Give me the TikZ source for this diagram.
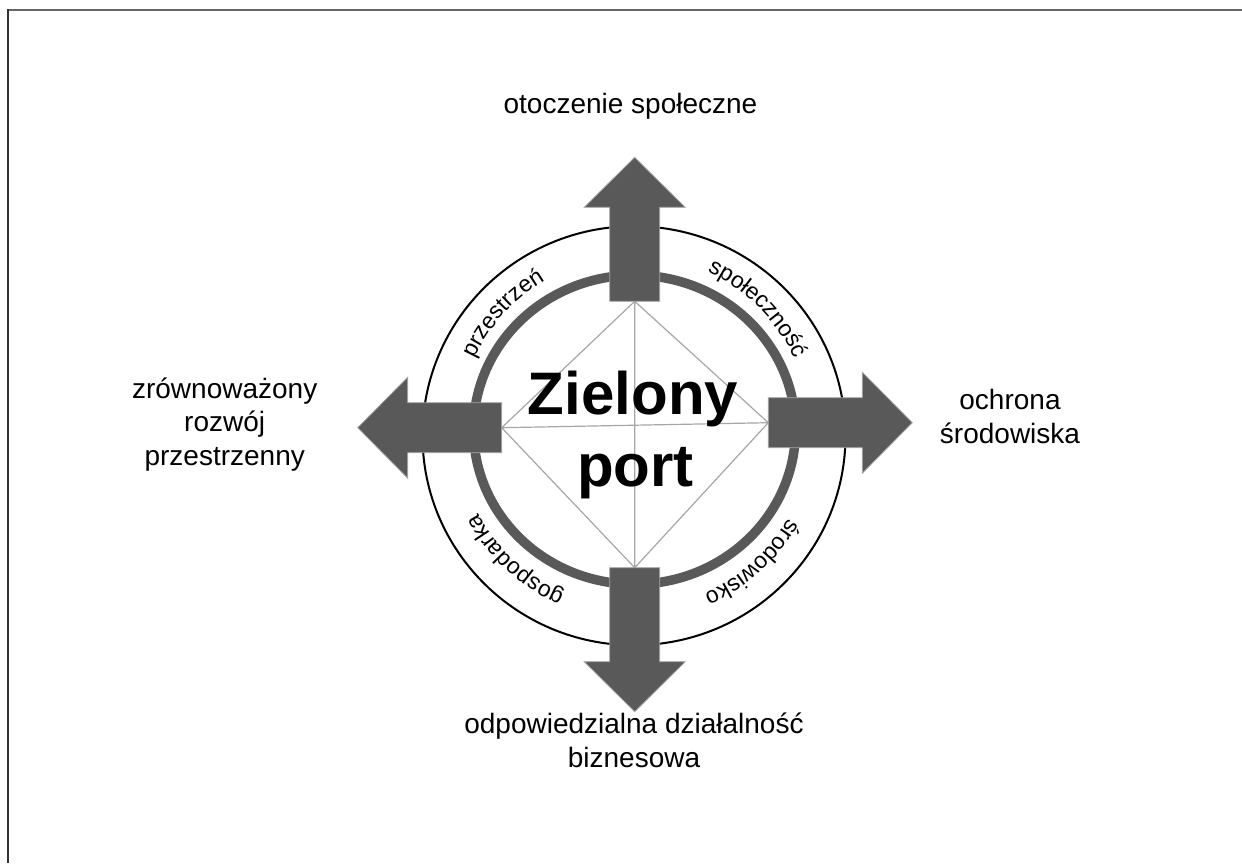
\documentclass[tikz,border=0pt]{standalone}
\usepackage{fontspec}
\setmainfont{Liberation Sans}
\usetikzlibrary{decorations.text}

\definecolor{arrowgray}{HTML}{595959}
\definecolor{linegray}{HTML}{A6A6A6}

\begin{document}
\begin{tikzpicture}[x=0.5pt, y=0.5pt]
    \tikzstyle{every node}=[inner sep=0pt,
				% The text:
				font=\fontsize{14}{16.7}\selectfont,
				align=center
					]
    \tikzstyle{bigarrow}=[fill=arrowgray, draw=linegray, line width=0.4pt]
    \tikzstyle{arctext}=[postaction={decorate},
				decoration={text along path, text align=center, text={|\fontsize{11.5}{13}\selectfont|#1}}]
    \useasboundingbox (0,0) rectangle (1242,-863);
    % frame
    \draw[gray!80!black, line width=1pt] (7,-9.5) -- (1242,-9.5);
    \draw[black!80, line width=1pt] (7.5,-9) -- (7.5,-863);
    % diamond corners
    \coordinate (top) at (634.7,-301.3);
    \coordinate (right) at (768.3,-422.7);
    \coordinate (bottom) at (634.7,-567.7);
    \coordinate (left) at (501.7,-427.7);
    % circles
    \draw[line width=1pt] (634,-435.7) ellipse [x radius=211.5, y radius=209.5];
    \draw[arrowgray, line width=4.75pt] (634.5,-429.7) ellipse [x radius=161, y radius=154.5];
    \draw[linegray, line width=0.6pt] (top) -- (right) -- (bottom) -- (left) -- cycle
        (top) -- (bottom) (left) -- (right);
    % arrows
    \foreach \v/\a in {top/90, right/0, bottom/270, left/180}
        \filldraw[bigarrow, shift={(\v)}, rotate=\a] (0,-25) -- (94,-25) -- (94,-50.5) -- (144,0)
            -- (94,50.5) -- (94,25) -- (0,25) -- cycle;
    % texts on the ring
    \path[arctext=przestrzeń] ([shift={(634.5,-432)}]178:176) arc[start angle=178, end angle=98, radius=176];
    \path[arctext=społeczność] ([shift={(634.5,-432)}]85:176) arc[start angle=85, end angle=5, radius=176];
    \path[arctext=środowisko] ([shift={(634.5,-432)}]352:176) arc[start angle=352, end angle=272, radius=176];
    \path[arctext=gospodarka] ([shift={(634.5,-432)}]267:176) arc[start angle=267, end angle=187, radius=176];
    % middle
    \node[font=\bfseries\fontsize{30}{36}\selectfont, anchor=base] (zielony) at (633,-414) {Zielony};
    \node[font=\bfseries\fontsize{30}{36}\selectfont, anchor=base] (port) at (635.5,-486) {port};
    % outer labels (base = last line)
    \node[anchor=base] (spoleczne) at (630.5,-113.3) {otoczenie społeczne};
    \node[anchor=base] (rozwoj) at (224.7,-465) {zrównoważony\\rozwój\\przestrzenny};
    \node[anchor=base] (ochrona) at (1010,-443.3) {ochrona\\środowiska};
    \node[anchor=base] (biznes) at (634,-767.3) {odpowiedzialna działalność\\biznesowa};
\end{tikzpicture}
\end{document}
